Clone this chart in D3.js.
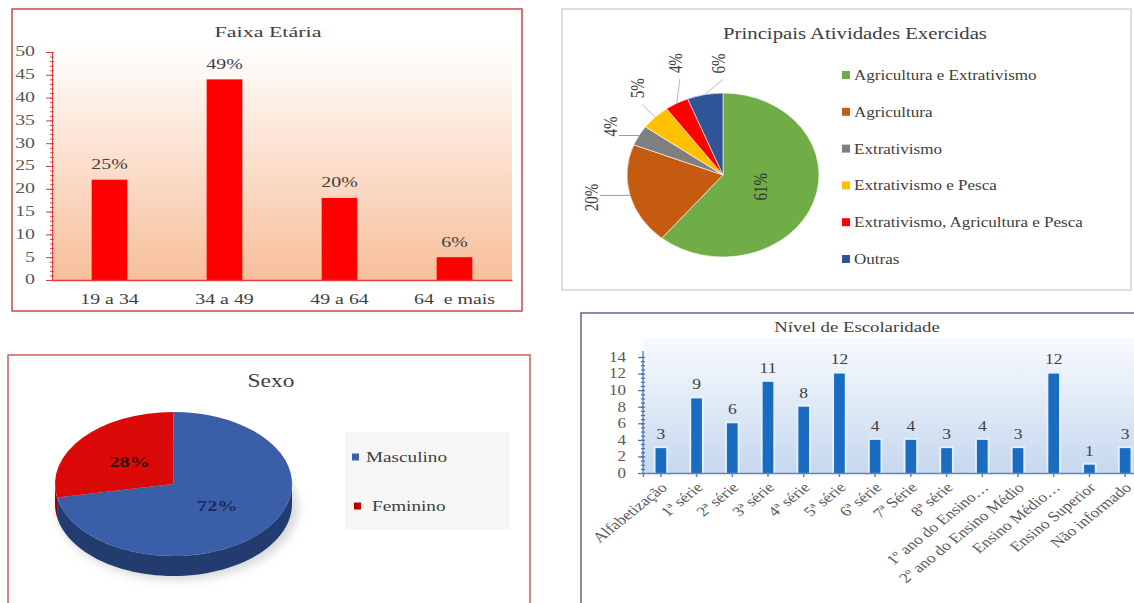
<!DOCTYPE html>
<html><head><meta charset="utf-8">
<script src="https://cdn.jsdelivr.net/npm/d3@7"></script>
<style>
body{margin:0;background:#fff}
svg{display:block;font-family:"Liberation Serif","Times New Roman",serif}
text{white-space:pre}
</style>
</head><body>
<svg id="c" width="1134" height="603"></svg>
<script>
// ---------- DATA ----------
const faixaCats = ["19 a 34", "34 a 49", "49 a 64", "64  e mais"];
const faixaVals = [22, 44, 18, 5];
const faixaPct = ["25%", "49%", "20%", "6%"];
const faixaTicks = [0, 5, 10, 15, 20, 25, 30, 35, 40, 45, 50];

const ativCats = ["Agricultura e Extrativismo", "Agricultura", "Extrativismo", "Extrativismo e Pesca", "Extrativismo, Agricultura e Pesca", "Outras"];
const ativVals = [61, 20, 4, 5, 4, 6];
const ativPct = ["61%", "20%", "4%", "5%", "4%", "6%"];
const ativColors = ["#70ad47", "#c55a11", "#7f7f7f", "#ffc000", "#ff0000", "#2f5597"];

const sexoCats = ["Masculino", "Feminino"];
const sexoVals = [72, 28];
const sexoPct = ["72%", "28%"];
const sexoColors = ["#3b5ea8", "#dc0909"];
const sexoSide = ["#223c70", "#8a0606"];

const escCats = ["Alfabetização", "1ª série", "2ª série", "3ª série", "4ª série", "5ª série", "6ª série", "7ª Série", "8ª série", "1º ano do Ensino…", "2º ano do Ensino Médio", "Ensino Médio…", "Ensino Superior", "Não informado"];
const escVals = [3, 9, 6, 11, 8, 12, 4, 4, 3, 4, 3, 12, 1, 3];
const escTicks = [0, 2, 4, 6, 8, 10, 12, 14];

// ---------- HELPERS ----------
const svg = d3.select("#c");
const defs = svg.append("defs");
function stext(g, x, y, str, o = {}) {
  return g.append("text")
    .attr("transform", `translate(${x},${y}) scale(${o.sx || 1},1)` + (o.rot ? ` rotate(${o.rot})` : ""))
    .attr("text-anchor", o.anchor || "middle")
    .attr("dominant-baseline", "central")
    .attr("font-size", o.size || 14)
    .attr("font-weight", o.weight || "normal")
    .attr("fill", o.fill || "#404040")
    .text(str);
}
function vgrad(id, stops) {
  const g = defs.append("linearGradient").attr("id", id).attr("x1", 0).attr("y1", 0).attr("x2", 0).attr("y2", 1);
  stops.forEach(s => g.append("stop").attr("offset", s[0]).attr("stop-color", s[1]));
}
vgrad("gF", [[0, "#ffffff"], [1, "#f7bf9b"]]);
vgrad("gE", [[0, "#f7fafd"], [1, "#c6d8ef"]]);

// ============ CHART 1: Faixa Etária ============
(function () {
  const sx = 1.42;
  const g = svg.append("g");
  g.append("rect").attr("x", 12).attr("y", 9).attr("width", 510).attr("height", 302)
    .attr("fill", "#fff").attr("stroke", "#c9474a").attr("stroke-width", 1.5);
  stext(g, 268, 32, "Faixa Etária", { size: 15.5, sx });
  const x = d3.scaleBand().domain(faixaCats).range([52, 512]).paddingInner(0.69).paddingOuter(0.345);
  const y = d3.scaleLinear().domain([0, 50]).range([280, 52]);
  g.append("rect").attr("x", 52).attr("y", 44).attr("width", 460).attr("height", 236).attr("fill", "url(#gF)");
  g.selectAll(".bar").data(faixaVals).join("rect")
    .attr("x", (d, i) => x(faixaCats[i])).attr("width", x.bandwidth())
    .attr("y", d => y(d)).attr("height", d => y(0) - y(d)).attr("fill", "#ff0000");
  faixaVals.forEach((d, i) => stext(g, x(faixaCats[i]) + x.bandwidth() / 2, y(d) - 15, faixaPct[i], { size: 14, sx }));
  const ay = g.append("g").attr("transform", "translate(52,0)")
    .call(d3.axisLeft(y).tickValues(faixaTicks).tickSize(6).tickFormat(""));
  const am = g.append("g").attr("transform", "translate(54,0)")
    .call(d3.axisLeft(y).tickValues(d3.range(0, 51)).tickSize(4).tickFormat(""));
  am.select(".domain").remove();
  [ay, am].forEach(a => a.selectAll("line,path").attr("stroke", "#e23b3b"));
  faixaTicks.forEach(t => stext(g, 35, y(t), String(t), { size: 14, sx, anchor: "end", fill: "#595959" }));
  const ax = g.append("g").attr("transform", "translate(0,280)").call(d3.axisBottom(x).tickSize(0).tickFormat(""));
  ax.select(".domain").attr("stroke", "#e23b3b").attr("stroke-width", 1.5);
  faixaCats.forEach(c => stext(g, x(c) + x.bandwidth() / 2, 300, c, { size: 14, sx, fill: "#404040" }));
})();

// ============ CHART 2: Principais Atividades ============
(function () {
  const sx = 1.2;
  const g = svg.append("g");
  g.append("rect").attr("x", 562).attr("y", 9).attr("width", 569).attr("height", 281)
    .attr("fill", "#fff").attr("stroke", "#d4d6cc").attr("stroke-width", 1.5);
  stext(g, 855, 33, "Principais Atividades Exercidas", { size: 17.3, sx });
  const cx = 723, cy = 175, R = 82, rx = 96;
  const pie = d3.pie().sort(null).value(d => d)(ativVals);
  const arc = d3.arc().innerRadius(0).outerRadius(R);
  const pg = g.append("g").attr("transform", `translate(${cx},${cy}) scale(${rx / R},1)`);
  pg.selectAll("path").data(pie).join("path").attr("d", arc)
    .attr("fill", (d, i) => ativColors[i]).attr("stroke", "#fff").attr("stroke-width", 0.6)
    .attr("vector-effect", "non-scaling-stroke");
  const ep = (a, k) => [cx + rx * k * Math.sin(a), cy - R * k * Math.cos(a)];
  const labelR = [0.42, 1.39, 1.31, 1.38, 1.45, 1.36];
  const labelShift = [0, 3, -2, 5, 9, 9];
  pie.forEach((p, i) => {
    const mid = (p.startAngle + p.endAngle) / 2;
    const [lx, ly] = ep(mid + labelShift[i] * Math.PI / 180, labelR[i]);
    if (i > 0) {
      const e = ep(mid, 1.0);
      let pts;
      if (i <= 2) pts = [e, [lx + 8, e[1]]];
      else pts = [e, [lx + 4, ly + 16]];
      g.append("polyline").attr("points", pts.map(q => q.join(",")).join(" "))
        .attr("fill", "none").attr("stroke", i <= 2 ? "#9a9a9a" : "#b0b8cc").attr("stroke-width", 1);
    }
    stext(g, lx, ly, ativPct[i], { size: 15, sx, rot: -90, fill: i === 0 ? "#333" : "#404040" });
  });
  ativCats.forEach((c, i) => {
    const yy = 75 + i * 36.8;
    g.append("rect").attr("x", 842).attr("y", yy - 4).attr("width", 8).attr("height", 8).attr("fill", ativColors[i]);
    stext(g, 854, yy, c, { size: 14.2, sx, anchor: "start" });
  });
})();

// ============ CHART 3: Sexo (3D pie) ============
(function () {
  const sx = 1.3;
  const g = svg.append("g");
  g.append("rect").attr("x", 8).attr("y", 355).attr("width", 522).attr("height", 260)
    .attr("fill", "#fff").attr("stroke", "#cf5a5d").attr("stroke-width", 1.5);
  stext(g, 271, 381, "Sexo", { size: 18, sx });
  const cx = 173.5, cy = 484, rx = 118.5, ry = 72, depth = 20, R = 100;
  const f = defs.append("filter").attr("id", "blur").attr("x", "-20%").attr("y", "-20%").attr("width", "140%").attr("height", "140%");
  f.append("feGaussianBlur").attr("stdDeviation", 5);
  g.append("ellipse").attr("cx", cx + 4).attr("cy", cy + depth + 4).attr("rx", rx + 2).attr("ry", ry)
    .attr("fill", "#bdbdbd").attr("opacity", 0.6).attr("filter", "url(#blur)");
  const pie = d3.pie().sort(null).value(d => d)(sexoVals);
  const P = (a, dy) => [cx + rx * Math.sin(a), cy + dy - ry * Math.cos(a)];
  pie.forEach((p, i) => {
    const a0 = Math.max(p.startAngle, Math.PI / 2), a1 = Math.min(p.endAngle, 3 * Math.PI / 2);
    if (a1 <= a0) return;
    const n = 60, top = [], bot = [];
    for (let k = 0; k <= n; k++) {
      const a = a0 + (a1 - a0) * k / n;
      top.push(P(a, 0)); bot.push(P(a, depth));
    }
    const pts = top.concat(bot.reverse());
    g.append("path").attr("d", "M" + pts.map(q => q.join(",")).join("L") + "Z").attr("fill", sexoSide[i]);
  });
  const arc = d3.arc().innerRadius(0).outerRadius(R);
  g.append("g").attr("transform", `translate(${cx},${cy}) scale(${rx / R},${ry / R})`)
    .selectAll("path").data(pie).join("path").attr("d", arc).attr("fill", (d, i) => sexoColors[i]);
  pie.forEach((p, i) => {
    const mid = (p.startAngle + p.endAngle) / 2;
    const k = 0.48;
    const lx = cx + rx * k * Math.sin(mid), ly = cy - ry * k * Math.cos(mid);
    stext(g, lx, ly, sexoPct[i], { size: 15, sx: 1.35, weight: "bold", fill: i === 0 ? "#1b2b57" : "#3a0808" });
  });
  g.append("rect").attr("x", 345).attr("y", 432).attr("width", 165).attr("height", 98).attr("fill", "#f6f6f6");
  sexoCats.forEach((c, i) => {
    const yy = 457 + i * 49;
    g.append("rect").attr("x", 352 + i * 2).attr("y", yy - 3.5).attr("width", 7).attr("height", 7).attr("fill", i === 0 ? "#3b5ea8" : "#c00000");
    stext(g, 366 + i * 6, yy, c, { size: 15, sx: 1.28, anchor: "start", fill: "#404040" });
  });
})();

// ============ CHART 4: Nível de Escolaridade ============
(function () {
  const sx = 1.25;
  const g = svg.append("g");
  g.append("rect").attr("x", 581).attr("y", 313).attr("width", 600).attr("height", 300)
    .attr("fill", "#fff").attr("stroke", "#5b6b87").attr("stroke-width", 1.5);
  stext(g, 857, 327, "Nível de Escolaridade", { size: 15, sx });
  const x = d3.scaleBand().domain(escCats).range([643, 1143]).paddingInner(0.7).paddingOuter(0.35);
  const y = d3.scaleLinear().domain([0, 14]).range([473, 357]);
  g.append("rect").attr("x", 643).attr("y", 338).attr("width", 500).attr("height", 135).attr("fill", "url(#gE)");
  g.selectAll(".glow").data(escVals).join("rect")
    .attr("x", (d, i) => x(escCats[i]) - 2).attr("width", x.bandwidth() + 4)
    .attr("y", d => y(d) - 2).attr("height", d => y(0) - y(d) + 2).attr("fill", "#eaf3fd").attr("opacity", 0.8);
  g.selectAll(".bar").data(escVals).join("rect")
    .attr("x", (d, i) => x(escCats[i])).attr("width", x.bandwidth())
    .attr("y", d => y(d)).attr("height", d => y(0) - y(d)).attr("fill", "#1a6cc0");
  escVals.forEach((d, i) => stext(g, x(escCats[i]) + x.bandwidth() / 2, y(d) - 14, String(d), { size: 14, sx }));
  const ay = g.append("g").attr("transform", "translate(643,0)")
    .call(d3.axisLeft(y).tickValues(escTicks).tickSize(5).tickFormat(""));
  ay.select(".domain").attr("d", `M0,${y(0)}V${y(14) - 6}`);
  const am = g.append("g").attr("transform", "translate(645,0)")
    .call(d3.axisLeft(y).tickValues(d3.range(0, 14.01, 0.5)).tickSize(4).tickFormat(""));
  am.select(".domain").remove();
  [ay, am].forEach(a => a.selectAll("line,path").attr("stroke", "#3f6fb5").attr("stroke-width", 1.2));
  escTicks.forEach(t => stext(g, 626, y(t), String(t), { size: 13.6, sx, anchor: "end", fill: "#595959" }));
  const ax = g.append("g").attr("transform", "translate(0,473)")
    .call(d3.axisBottom(x).tickSize(4).tickFormat(""));
  ax.selectAll("line,path").attr("stroke", "#6582b8").attr("stroke-width", 1.5);
  escCats.forEach(c => stext(g, x(c) + x.bandwidth() / 2 + 3, 485, c, { size: 14, sx, rot: -45, anchor: "end", fill: "#595959" }));
})();
</script>
</body></html>
